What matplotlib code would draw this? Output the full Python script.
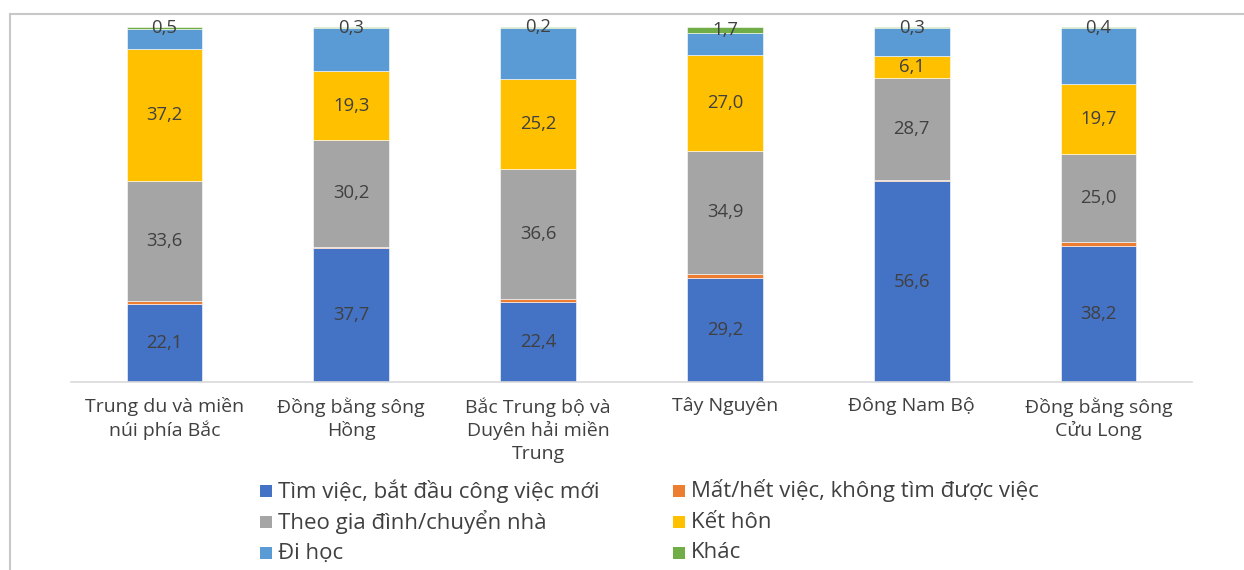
import matplotlib
matplotlib.use("Agg")
import matplotlib.pyplot as plt
from matplotlib.lines import Line2D
from matplotlib.patches import Rectangle
import numpy as np

plt.rcParams['font.family'] = ['Open Sans', 'DejaVu Sans']

categories = ["Trung du và miền\nnúi phía Bắc", "Đồng bằng sông\nHồng",
              "Bắc Trung bộ và\nDuyên hải miền\nTrung", "Tây Nguyên",
              "Đông Nam Bộ", "Đồng bằng sông\nCửu Long"]

tim_viec = [22.1, 37.7, 22.4, 29.2, 56.6, 38.2]
mat_viec = [0.8, 0.3, 1.1, 1.1, 0.4, 1.1]
theo_gd = [33.6, 30.2, 36.6, 34.9, 28.7, 25.0]
ket_hon = [37.2, 19.3, 25.2, 27.0, 6.1, 19.7]
di_hoc = [5.8, 12.2, 14.5, 6.1, 7.9, 15.6]
khac = [0.5, 0.3, 0.2, 1.7, 0.3, 0.4]

series = [
    ("Tìm việc, bắt đầu công việc mới", tim_viec, "#4472C4", True),
    ("Mất/hết việc, không tìm được việc", mat_viec, "#ED7D31", False),
    ("Theo gia đình/chuyển nhà", theo_gd, "#A5A5A5", True),
    ("Kết hôn", ket_hon, "#FFC000", True),
    ("Đi học", di_hoc, "#5B9BD5", False),
    ("Khác", khac, "#70AD47", True),
]

W, H = 1244, 570
fig = plt.figure(figsize=(W / 100, H / 100), dpi=100)
ax = fig.add_axes([71/W, (H-382)/H, (1192-71)/W, (382-27)/H])

x = np.arange(len(categories))
bottom = np.zeros(len(categories))
colors = {}
txtcol = "#404040"
for name, vals, col, lab in series:
    v = np.array(vals)
    ax.bar(x, v, 0.405, bottom=bottom, color=col, edgecolor="white",
           linewidth=0.4, label=name)
    colors[name] = col
    if lab:
        for xi, b, val in zip(x, bottom, v):
            ax.text(xi, b + val / 2, f"{val:.1f}".replace(".", ","),
                    ha="center", va="center", fontsize=13.3, color=txtcol)
    bottom = bottom + v

ax.set_xlim(-0.5, len(categories) - 0.5)
ax.set_ylim(0, 100)
ax.set_yticks([])
for s in ["top", "right", "left"]:
    ax.spines[s].set_visible(False)
ax.spines["bottom"].set_color("#D9D9D9")
ax.spines["bottom"].set_linewidth(1.2)
ax.set_xticks(x)
ax.set_xticklabels(categories, fontsize=14, color=txtcol, linespacing=1.3)
ax.tick_params(axis="x", length=0, pad=11)

# legend drawn as a fixed grid (2 columns x 3 rows)
order = ["Tìm việc, bắt đầu công việc mới", "Mất/hết việc, không tìm được việc",
         "Theo gia đình/chuyển nhà", "Kết hôn", "Đi học", "Khác"]
col_x = [260, 673]
row_y = [491, 522, 553]
msz = 12
for i, name in enumerate(order):
    cx = col_x[i % 2]
    cy = row_y[i // 2]
    fig.add_artist(Rectangle((cx / W, 1 - (cy + msz / 2) / H), msz / W, msz / H,
                             facecolor=colors[name], edgecolor="none",
                             transform=fig.transFigure))
    fig.text((cx + msz + 6) / W, 1 - cy / H, name, ha="left", va="center",
             fontsize=16, color=txtcol)

# outer frame lines
fig.add_artist(Line2D([10/W, 1], [1 - 13.5/H, 1 - 13.5/H],
                      color="#C8C8C8", linewidth=1.5, transform=fig.transFigure))
fig.add_artist(Line2D([10/W, 10/W], [0, 1 - 13.5/H],
                      color="#C8C8C8", linewidth=1.5, transform=fig.transFigure))

fig.savefig("out.png", dpi=100, facecolor="white")
